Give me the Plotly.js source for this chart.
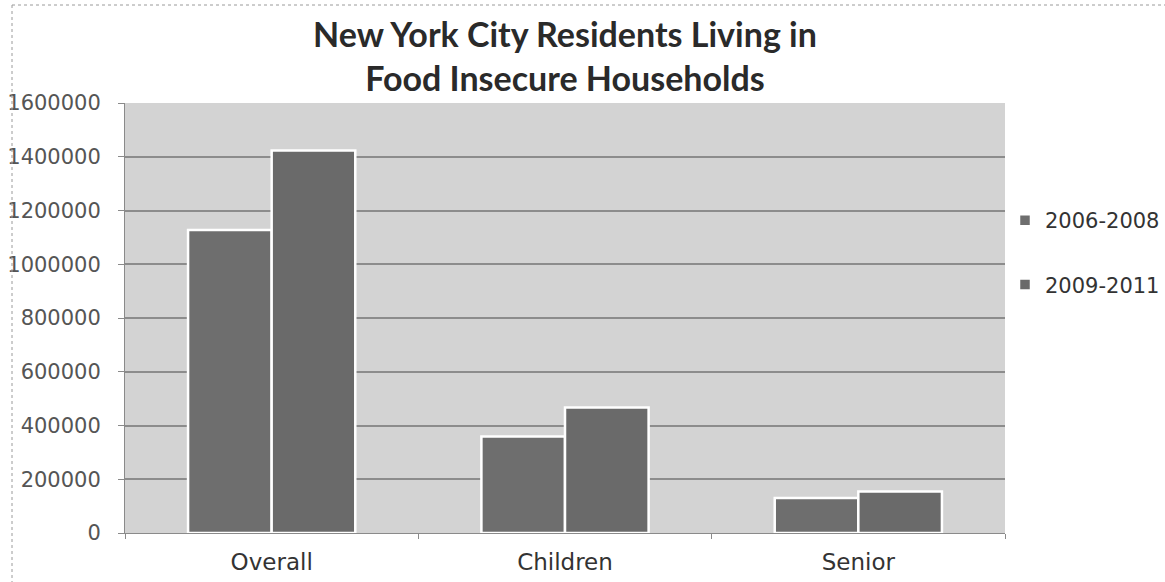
<!DOCTYPE html>
<html>
<head>
<meta charset="utf-8">
<script src="https://cdn.plot.ly/plotly-3.0.1.min.js"></script>
<style>
  html, body { margin: 0; padding: 0; background: #ffffff; }
  #chart { width: 1165px; height: 582px; }
</style>
</head>
<body>
<div id="chart"></div>
<script>
// Residents of New York City living in food insecure households
const groups = ["Overall", "Children", "Senior"];
const period1Label = "2006-2008";
const period2Label = "2009-2011";
const period1Values = [1127000, 359000, 130000];
const period2Values = [1423000, 467000, 154000];
const yTickValues = [0, 200000, 400000, 600000, 800000, 1000000, 1200000, 1400000, 1600000];

const barStyle = (color) => ({
  color: color,
  line: { color: "#ffffff", width: 2.5 }
});

const traces = [
  {
    type: "bar", name: period1Label, x: groups, y: period1Values,
    marker: barStyle("#6e6e6e"), legendgroup: "a", hoverinfo: "x+y+name"
  },
  {
    type: "bar", name: period2Label, x: groups, y: period2Values,
    marker: barStyle("#6a6a6a"), legendgroup: "b", hoverinfo: "x+y+name"
  }
];

// Plot area spans 125..1005 px horizontally and 103..533 px vertically
const W = 1165, H = 582;
const plotL = 125, plotR = 1005, plotT = 103, plotB = 533;
const pw = plotR - plotL, ph = plotB - plotT;
const px = (v) => (v - plotL) / pw;
const py = (v) => (plotB - v) / ph;

const layout = {
  width: W,
  height: H,
  margin: { l: plotL, r: W - plotR, t: plotT, b: H - plotB, pad: 0 },
  paper_bgcolor: "#ffffff",
  plot_bgcolor: "#d3d3d3",
  barmode: "group",
  bargap: 0.43,
  bargroupgap: 0,
  font: { family: "DejaVu Sans", color: "#3a3a3a" },
  title: {
    text: "New York City Residents Living in<br>Food Insecure Households",
    font: { family: "Lato", size: 34, color: "#2a2a2a", weight: 700 },
    x: 0.5, xref: "paper", xanchor: "center",
    y: 1 - 47 / H, yref: "container", yanchor: "top"
  },
  xaxis: {
    type: "category",
    tickson: "boundaries",
    ticks: "outside", ticklen: 5, tickcolor: "#8a8a8a", tickwidth: 1,
    showline: true, linecolor: "#8a8a8a", linewidth: 1,
    showgrid: false,
    tickfont: { family: "DejaVu Sans", size: 23, color: "#333333" },
    ticklabelstandoff: 8
  },
  yaxis: {
    range: [0, 1600000],
    tickvals: yTickValues,
    ticktext: yTickValues.map(String),
    ticks: "outside", ticklen: 6, tickcolor: "#8a8a8a", tickwidth: 1,
    showline: true, linecolor: "#8a8a8a", linewidth: 1,
    showgrid: true, gridcolor: "#8c8c8c", gridwidth: 2,
    zeroline: false,
    tickfont: { family: "DejaVu Sans", size: 21, color: "#555555" },
    ticklabelstandoff: 13
  },
  legend: {
    xref: "container", x: 1005 / W, xanchor: "left",
    yref: "container", y: 1 - 200 / H, yanchor: "top",
    bgcolor: "rgba(0,0,0,0)",
    font: { family: "DejaVu Sans", size: 21, color: "#333333" },
    tracegroupgap: 34,
    itemwidth: 30
  },
  shapes: [
    // dotted outline of the chart area (left and top edges)
    { type: "line", xref: "paper", yref: "paper",
      x0: px(12), x1: px(12), y0: py(5), y1: py(600),
      line: { color: "#9a9a9a", width: 1, dash: "dot" } },
    { type: "line", xref: "paper", yref: "paper",
      x0: px(12), x1: px(1170), y0: py(5), y1: py(5),
      line: { color: "#9a9a9a", width: 1, dash: "dot" } }
  ],
  showlegend: true
};

Plotly.newPlot("chart", traces, layout, { displayModeBar: false, staticPlot: true });
</script>
</body>
</html>
